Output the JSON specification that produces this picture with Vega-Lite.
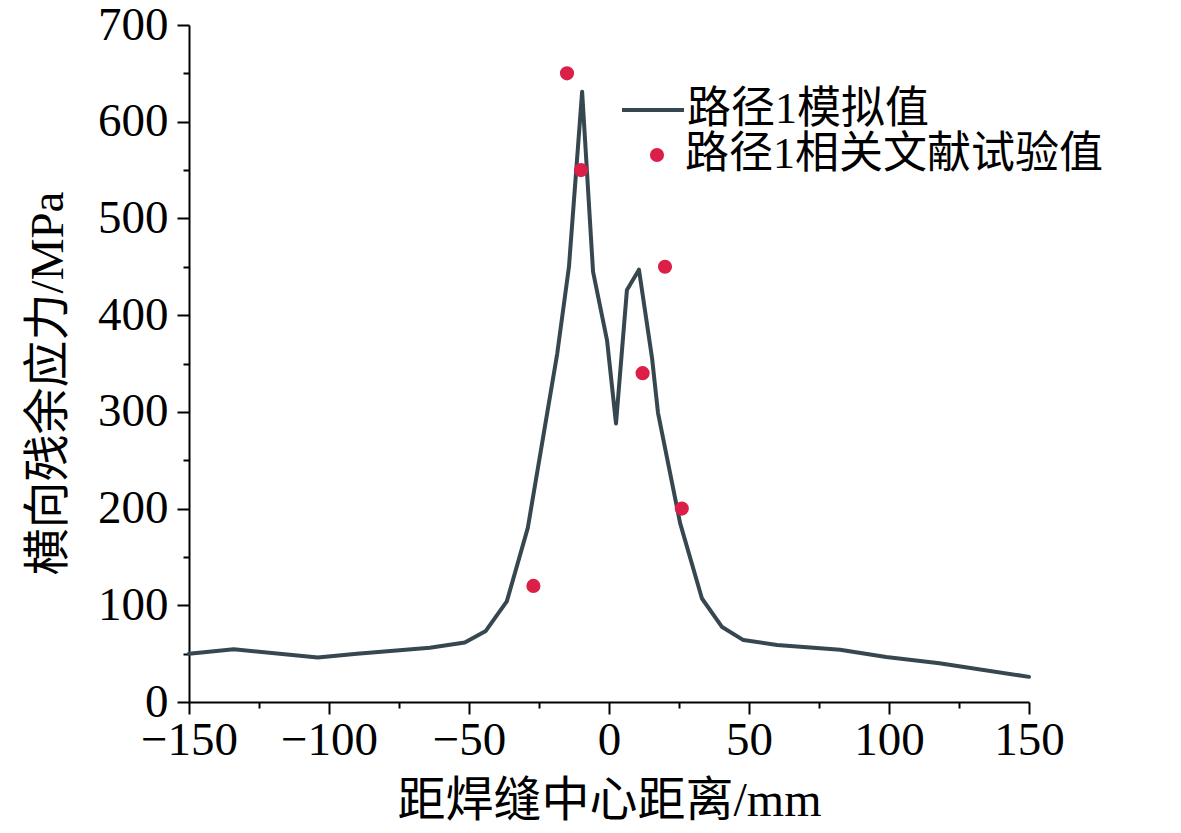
{
  "$schema": "https://vega.github.io/schema/vega-lite/v6.json",
  "width": 840,
  "height": 677,
  "autosize": {"type": "none"},
  "padding": {"left": 189, "top": 25, "right": 152, "bottom": 131},
  "background": "white",
  "config": {
    "view": {"stroke": null},
    "font": "Liberation Serif, Noto Sans CJK SC",
    "legend": {"padding": 0, "labelLimit": 600, "labelColor": "black", "labelFontSize": 44, "labelFont": "Liberation Serif, Noto Sans CJK SC", "title": null}
  },
  "datasets": {
    "sim": [
      {"x": -150, "y": 50, "series": "路径1模拟值"},
      {"x": -134, "y": 54.5, "series": "路径1模拟值"},
      {"x": -104, "y": 46, "series": "路径1模拟值"},
      {"x": -90, "y": 50, "series": "路径1模拟值"},
      {"x": -77, "y": 53, "series": "路径1模拟值"},
      {"x": -64, "y": 56, "series": "路径1模拟值"},
      {"x": -51.5, "y": 61.5, "series": "路径1模拟值"},
      {"x": -44, "y": 73.5, "series": "路径1模拟值"},
      {"x": -36.5, "y": 104, "series": "路径1模拟值"},
      {"x": -29, "y": 180, "series": "路径1模拟值"},
      {"x": -22, "y": 300, "series": "路径1模拟值"},
      {"x": -18.5, "y": 360, "series": "路径1模拟值"},
      {"x": -14.3, "y": 450, "series": "路径1模拟值"},
      {"x": -9.6, "y": 631, "series": "路径1模拟值"},
      {"x": -5.7, "y": 445, "series": "路径1模拟值"},
      {"x": -0.7, "y": 374, "series": "路径1模拟值"},
      {"x": 2.5, "y": 288, "series": "路径1模拟值"},
      {"x": 6.4, "y": 426, "series": "路径1模拟值"},
      {"x": 10.7, "y": 447, "series": "路径1模拟值"},
      {"x": 15.4, "y": 355, "series": "路径1模拟值"},
      {"x": 17.5, "y": 299, "series": "路径1模拟值"},
      {"x": 25.4, "y": 185, "series": "路径1模拟值"},
      {"x": 33.2, "y": 107, "series": "路径1模拟值"},
      {"x": 40.4, "y": 77.5, "series": "路径1模拟值"},
      {"x": 48, "y": 64, "series": "路径1模拟值"},
      {"x": 60, "y": 59, "series": "路径1模拟值"},
      {"x": 82.5, "y": 54, "series": "路径1模拟值"},
      {"x": 99, "y": 46.5, "series": "路径1模拟值"},
      {"x": 118, "y": 40, "series": "路径1模拟值"},
      {"x": 150, "y": 26, "series": "路径1模拟值"}
    ],
    "exp": [
      {"x": -27, "y": 120, "series": "路径1相关文献试验值"},
      {"x": -15, "y": 650, "series": "路径1相关文献试验值"},
      {"x": -10, "y": 550, "series": "路径1相关文献试验值"},
      {"x": 12, "y": 340, "series": "路径1相关文献试验值"},
      {"x": 20, "y": 450, "series": "路径1相关文献试验值"},
      {"x": 26, "y": 200, "series": "路径1相关文献试验值"}
    ]
  },
  "layer": [
    {
      "data": {"name": "sim"},
      "mark": {"type": "line", "strokeWidth": 4, "strokeJoin": "round", "strokeCap": "round"},
      "encoding": {
        "x": {
          "field": "x", "type": "quantitative",
          "scale": {"domain": [-150, 150], "nice": false, "zero": false},
          "axis": {
            "values": [-150, -125, -100, -75, -50, -25, 0, 25, 50, 75, 100, 125, 150],
            "labelExpr": "datum.value % 50 === 0 ? datum.label : ''",
            "tickSize": {"condition": {"test": "datum.value % 50 !== 0", "value": 6}, "value": 12},
            "grid": false,
            "domainColor": "black", "domainWidth": 2,
            "tickColor": "black", "tickWidth": 2,
            "labelFontSize": 47, "labelColor": "black", "labelPadding": 3,
            "labelFlush": false, "labelOverlap": false,
            "title": "距焊缝中心距离/mm",
            "titleFontSize": 48, "titleFontWeight": "normal", "titleColor": "black",
            "titleX": 420, "titleY": 99, "titleBaseline": "middle", "titleAlign": "center"
          }
        },
        "y": {
          "field": "y", "type": "quantitative",
          "scale": {"domain": [0, 700], "nice": false},
          "axis": {
            "values": [0, 50, 100, 150, 200, 250, 300, 350, 400, 450, 500, 550, 600, 650, 700],
            "labelExpr": "datum.value % 100 === 0 ? datum.label : ''",
            "tickSize": {"condition": {"test": "datum.value % 100 !== 0", "value": 6}, "value": 12},
            "grid": false,
            "domainColor": "black", "domainWidth": 2,
            "tickColor": "black", "tickWidth": 2,
            "labelFontSize": 47, "labelColor": "black", "labelPadding": 9,
            "labelFlush": false, "labelOverlap": false,
            "title": "横向残余应力/MPa",
            "titleFontSize": 47, "titleFontWeight": "normal", "titleColor": "black",
            "titleX": -141, "titleY": 358, "titleBaseline": "middle", "titleAlign": "center", "titleAngle": -90
          }
        },
        "stroke": {
          "field": "series", "type": "nominal",
          "scale": {"range": ["#37474f"]},
          "legend": {
            "orient": "none", "legendX": 431, "legendY": 52,
            "symbolType": "stroke", "symbolSize": 3844, "symbolStrokeWidth": 4,
            "symbolStrokeColor": "#37474f",
            "labelOffset": 1
          }
        }
      }
    },
    {
      "data": {"name": "exp"},
      "mark": {"type": "point", "filled": true, "size": 200, "opacity": 1},
      "encoding": {
        "x": {"field": "x", "type": "quantitative"},
        "y": {"field": "y", "type": "quantitative"},
        "fill": {
          "field": "series", "type": "nominal",
          "scale": {"range": ["#dc1f47"]},
          "legend": {
            "orient": "none", "legendX": 446, "legendY": 108,
            "symbolType": "circle", "symbolSize": 200, "symbolOpacity": 1,
            "symbolFillColor": "#dc1f47", "symbolStrokeWidth": 0,
            "labelOffset": 6
          }
        }
      }
    }
  ]
}
